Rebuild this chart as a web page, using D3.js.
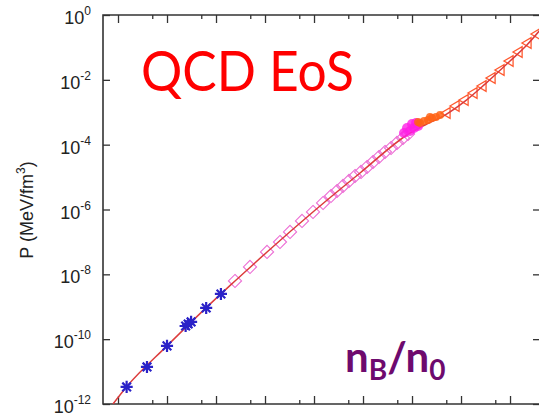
<!DOCTYPE html>
<html>
<head>
<meta charset="utf-8">
<script src="https://cdn.jsdelivr.net/npm/d3@7"></script>
<style>
  html, body { margin: 0; padding: 0; background: #fff; }
  svg { display: block; }
</style>
</head>
<body>
<div id="chart"></div>
<script>
// density n_B/n_0 and pressure P (MeV/fm^3)
const curveN = [7.9e-7, 1.5e-6, 1.0e-5, 1.26e-4, 2.44e-4, 1.1e-3, 9.5e-3, 8.7e-2, 0.91, 2.0, 4.7, 12.1, 30.9, 100, 221, 520]
const curveP = [1.0e-12, 3.4e-12, 6.2e-11, 2.5e-9, 6.2e-9, 4.9e-8, 8.4e-7, 1.34e-5, 2.29e-4, 4.34e-4, 8.2e-4, 2.2e-3, 7.4e-3, 3.8e-2, 0.119, 0.53]

const starN = [1.5e-6, 3.9e-6, 1.0e-5, 2.4e-5, 2.7e-5, 3.1e-5, 6.3e-5, 1.26e-4]
const starP = [3.36e-12, 1.39e-11, 6.2e-11, 2.55e-10, 2.94e-10, 3.4e-10, 9.17e-10, 2.48e-9]

const diamondN = [2.44e-4, 4.94e-4, 1.10e-3, 2.02e-3, 3.24e-3, 5.69e-3, 9.54e-3, 1.53e-2, 2.22e-2, 2.95e-2, 3.91e-2,
  5.18e-2, 6.87e-2, 9.10e-2, 0.121, 0.160, 0.212, 0.281, 0.373, 0.494, 0.655, 0.829]
const diamondP = [6.24e-9, 1.69e-8, 4.90e-8, 9.95e-8, 2.03e-7, 4.43e-7, 8.39e-7, 1.59e-6, 2.61e-6, 3.72e-6, 5.32e-6,
  7.59e-6, 1.08e-5, 1.44e-5, 2.05e-5, 2.92e-5, 4.17e-5, 5.94e-5, 7.90e-5, 1.13e-4, 1.61e-4, 2.13e-4]

const magN = [0.687, 0.791, 0.910, 1.0, 1.10, 1.21, 1.33]
const magP = [2.29e-4, 3.27e-4, 2.64e-4, 4.34e-4, 3.27e-4, 4.67e-4, 3.77e-4]

const orangeN = [1.33, 1.46, 1.76, 2.12, 2.33, 2.56, 3.09, 3.73]
const orangeP = [5.0e-4, 4.67e-4, 5.37e-4, 5.77e-4, 7.14e-4, 6.65e-4, 7.14e-4, 8.23e-4]

const triN = [5.18, 7.91, 12.1, 18.4, 28.1, 43.0, 65.5, 100, 153, 233, 356]
const triP = [9.48e-4, 1.56e-3, 2.39e-3, 3.93e-3, 6.46e-3, 1.14e-2, 2.01e-2, 3.81e-2, 7.22e-2, 0.137, 0.259]

const yTicks = [1e0, 1e-2, 1e-4, 1e-6, 1e-8, 1e-10, 1e-12]
const xMajor = [1e-6, 1e-5, 1e-4, 1e-3, 1e-2, 1e-1, 1e0, 1e1, 1e2]
const xMinor = [5e-6, 5e-5, 5e-4, 5e-3, 5e-2, 5e-1, 5e0, 5e1]

const W = 539, H = 416
const plot = { left: 103, right: 540, top: 15, bottom: 404 }
const sans = "'Liberation Sans', Arial, Helvetica, sans-serif"

const x = d3.scaleLog().domain([4.94e-7, 409]).range([plot.left, plot.right])
const y = d3.scaleLog().domain([1e-12, 1]).range([plot.bottom, plot.top])

const zip = (a, b) => a.map((v, i) => [v, b[i]])

const svg = d3.select("#chart").append("svg")
  .attr("width", W)
  .attr("height", H)

svg.append("defs").append("clipPath").attr("id", "clip")
  .append("rect")
  .attr("x", plot.left).attr("y", plot.top)
  .attr("width", plot.right - plot.left).attr("height", plot.bottom - plot.top)

// ticks
const tickStyle = g => {
  g.select(".domain").remove()
  g.selectAll("line").attr("stroke", "#333").attr("stroke-width", 1.3)
}
svg.append("g").attr("transform", `translate(0,${plot.bottom})`)
  .call(d3.axisBottom(x).tickValues(xMajor).tickSize(-8).tickFormat("")).call(tickStyle)
svg.append("g").attr("transform", `translate(0,${plot.bottom})`)
  .call(d3.axisBottom(x).tickValues(xMinor).tickSize(-4).tickFormat("")).call(tickStyle)
svg.append("g").attr("transform", `translate(0,${plot.top})`)
  .call(d3.axisTop(x).tickValues(xMajor).tickSize(-8).tickFormat("")).call(tickStyle)
svg.append("g").attr("transform", `translate(0,${plot.top})`)
  .call(d3.axisTop(x).tickValues(xMinor).tickSize(-4).tickFormat("")).call(tickStyle)
svg.append("g").attr("transform", `translate(${plot.left},0)`)
  .call(d3.axisLeft(y).tickValues(yTicks).tickSize(-7).tickFormat("")).call(tickStyle)
svg.append("g").attr("transform", `translate(${plot.right},0)`)
  .call(d3.axisRight(y).tickValues(yTicks).tickSize(-7).tickFormat("")).call(tickStyle)

// frame
svg.append("path")
  .attr("d", `M${plot.right},${plot.top}H${plot.left}V${plot.bottom}H${plot.right}`)
  .attr("fill", "none")
  .attr("stroke", "#333")
  .attr("stroke-width", 1.6)

// y tick labels 10^n
svg.append("g").selectAll("text")
  .data(yTicks)
  .join("text")
  .attr("x", 91)
  .attr("y", d => y(d) + 9)
  .attr("text-anchor", "end")
  .attr("font-family", sans)
  .attr("font-size", 18)
  .attr("fill", "#222")
  .each(function (d) {
    const t = d3.select(this)
    t.append("tspan").text("10")
    t.append("tspan").attr("dy", -9).attr("font-size", 12).text(Math.round(Math.log10(d)))
  })

// y axis title
const yTitle = svg.append("text")
  .attr("transform", "translate(33,210) rotate(-90)")
  .attr("text-anchor", "middle")
  .attr("font-family", sans)
  .attr("font-size", 18)
  .attr("fill", "#222")
yTitle.append("tspan").text("P (MeV/fm")
yTitle.append("tspan").attr("dy", -8).attr("font-size", 12).text("3")
yTitle.append("tspan").attr("dy", 8).text(")")

// data
const data = svg.append("g").attr("clip-path", "url(#clip)")

data.append("g").selectAll("path")
  .data(zip(diamondN, diamondP))
  .join("path")
  .attr("transform", d => `translate(${x(d[0])},${y(d[1])})`)
  .attr("d", d3.symbol(d3.symbolDiamond2, 110))
  .attr("fill", "none")
  .attr("stroke", "#ec6cd4")
  .attr("stroke-width", 1.1)

data.append("g").selectAll("path")
  .data(zip(triN, triP))
  .join("path")
  .attr("transform", d => `translate(${x(d[0])},${y(d[1])}) rotate(-90)`)
  .attr("d", d3.symbol(d3.symbolTriangle2, 80))
  .attr("fill", "none")
  .attr("stroke", "#ff5a30")
  .attr("stroke-width", 1.3)

const line = d3.line()
  .x(d => x(d[0]))
  .y(d => y(d[1]))
  .curve(d3.curveMonotoneX)

data.append("path")
  .datum(zip(curveN, curveP))
  .attr("fill", "none")
  .attr("stroke", "#dc3c3c")
  .attr("stroke-width", 1.5)
  .attr("d", line)

data.append("g").selectAll("circle")
  .data(zip(magN, magP))
  .join("circle")
  .attr("cx", d => x(d[0]))
  .attr("cy", d => y(d[1]))
  .attr("r", 5)
  .attr("fill", "#ff1ee6")
  .attr("opacity", 0.8)

data.append("g").selectAll("circle")
  .data(zip(orangeN, orangeP))
  .join("circle")
  .attr("cx", d => x(d[0]))
  .attr("cy", d => y(d[1]))
  .attr("r", 4)
  .attr("fill", "#ff6418")
  .attr("opacity", 0.85)

const stars = data.append("g").selectAll("g")
  .data(zip(starN, starP))
  .join("g")
  .attr("transform", d => `translate(${x(d[0])},${y(d[1])})`)
stars.append("path").attr("d", d3.symbol(d3.symbolPlus, 50))
stars.append("path").attr("d", d3.symbol(d3.symbolTimes, 50))
stars.selectAll("path")
  .attr("fill", "none")
  .attr("stroke", "#2a22c8")
  .attr("stroke-width", 2.2)

// annotations
svg.append("text")
  .attr("x", 141)
  .attr("y", 91)
  .attr("font-family", "Lato, 'Open Sans', sans-serif")
  .attr("font-size", 57)
  .attr("fill", "#ff0000")
  .attr("textLength", 213)
  .attr("lengthAdjust", "spacingAndGlyphs")
  .text("QCD EoS")

const xTitle = svg.append("text")
  .attr("x", 345)
  .attr("y", 372)
  .attr("font-family", "Lato, 'Open Sans', sans-serif")
  .attr("font-weight", "bold")
  .attr("font-size", 42)
  .attr("fill", "#6e0a6e")
xTitle.append("tspan").text("n")
xTitle.append("tspan").attr("dy", 8).attr("font-size", 28).text("B")
xTitle.append("tspan").attr("dy", -8).text("/n")
xTitle.append("tspan").attr("dy", 8).attr("font-size", 28).text("0")
</script>
</body>
</html>
